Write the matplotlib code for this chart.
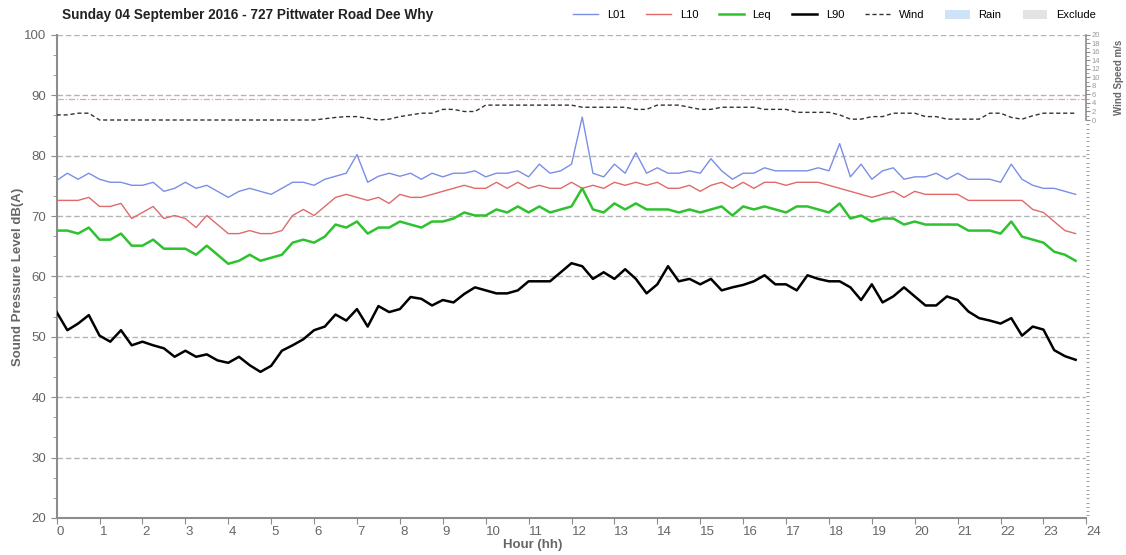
import numpy as np
import matplotlib
matplotlib.use('Agg')
import matplotlib.pyplot as plt
from matplotlib.lines import Line2D
from matplotlib.patches import Patch
from matplotlib.ticker import MultipleLocator

plt.rcParams['font.family'] = ['Liberation Sans', 'DejaVu Sans']

TITLE = 'Sunday 04 September 2016 - 727 Pittwater Road Dee Why'

# 15 minute intervals over the day
hours = np.arange(96) * 0.25

l01 = [75.9, 77.1, 76.1, 77.1, 76.1, 75.6, 75.6, 75.1, 75.1, 75.6,
       74.1, 74.6, 75.6, 74.6, 75.1, 74.1, 73.1, 74.1, 74.6, 74.1,
       73.6, 74.6, 75.6, 75.6, 75.1, 76.1, 76.6, 77.1, 80.2, 75.6,
       76.6, 77.1, 76.6, 77.1, 76.1, 77.1, 76.5, 77.1, 77.1, 77.5,
       76.5, 77.1, 77.1, 77.5, 76.5, 78.6, 77.1, 77.5, 78.6, 86.4,
       77.1, 76.5, 78.6, 77.1, 80.5, 77.1, 78.0, 77.1, 77.1, 77.5,
       77.1, 79.5, 77.5, 76.1, 77.1, 77.1, 78.0, 77.5, 77.5, 77.5,
       77.5, 78.0, 77.5, 82.0, 76.5, 78.6, 76.1, 77.5, 78.0, 76.1,
       76.5, 76.5, 77.1, 76.1, 77.1, 76.1, 76.1, 76.1, 75.6, 78.6,
       76.1, 75.1, 74.6, 74.6, 74.1, 73.6]

l10 = [72.6, 72.6, 72.6, 73.1, 71.6, 71.6, 72.1, 69.6, 70.6, 71.6,
       69.6, 70.1, 69.6, 68.1, 70.1, 68.6, 67.1, 67.1, 67.6, 67.1,
       67.1, 67.6, 70.1, 71.1, 70.1, 71.6, 73.1, 73.6, 73.1, 72.6,
       73.1, 72.1, 73.6, 73.1, 73.1, 73.6, 74.1, 74.6, 75.1, 74.6,
       74.6, 75.6, 74.6, 75.6, 74.6, 75.1, 74.6, 74.6, 75.6, 74.6,
       75.1, 74.6, 75.6, 75.1, 75.6, 75.1, 75.6, 74.6, 74.6, 75.1,
       74.1, 75.1, 75.6, 74.6, 75.6, 74.6, 75.6, 75.6, 75.1, 75.6,
       75.6, 75.6, 75.1, 74.6, 74.1, 73.6, 73.1, 73.6, 74.1, 73.1,
       74.1, 73.6, 73.6, 73.6, 73.6, 72.6, 72.6, 72.6, 72.6, 72.6,
       72.6, 71.1, 70.6, 69.1, 67.6, 67.1]

leq = [67.6, 67.6, 67.1, 68.1, 66.1, 66.1, 67.1, 65.1, 65.1, 66.1,
       64.6, 64.6, 64.6, 63.6, 65.1, 63.6, 62.1, 62.6, 63.6, 62.6,
       63.1, 63.6, 65.6, 66.1, 65.6, 66.6, 68.6, 68.1, 69.1, 67.1,
       68.1, 68.1, 69.1, 68.6, 68.1, 69.1, 69.1, 69.6, 70.6, 70.1,
       70.1, 71.1, 70.6, 71.6, 70.6, 71.6, 70.6, 71.1, 71.6, 74.6,
       71.1, 70.6, 72.1, 71.1, 72.1, 71.1, 71.1, 71.1, 70.6, 71.1,
       70.6, 71.1, 71.6, 70.1, 71.6, 71.1, 71.6, 71.1, 70.6, 71.6,
       71.6, 71.1, 70.6, 72.1, 69.6, 70.1, 69.1, 69.6, 69.6, 68.6,
       69.1, 68.6, 68.6, 68.6, 68.6, 67.6, 67.6, 67.6, 67.1, 69.1,
       66.6, 66.1, 65.6, 64.1, 63.6, 62.6]

l90 = [54.1, 51.1, 52.2, 53.6, 50.2, 49.2, 51.1, 48.6, 49.2, 48.6,
       48.1, 46.7, 47.7, 46.7, 47.1, 46.1, 45.7, 46.7, 45.3, 44.2,
       45.2, 47.7, 48.6, 49.6, 51.1, 51.7, 53.7, 52.7, 54.6, 51.7,
       55.1, 54.1, 54.6, 56.6, 56.3, 55.2, 56.1, 55.7, 57.1, 58.2,
       57.7, 57.2, 57.2, 57.7, 59.2, 59.2, 59.2, 60.7, 62.2, 61.7,
       59.6, 60.7, 59.6, 61.2, 59.6, 57.2, 58.7, 61.7, 59.2, 59.6,
       58.7, 59.6, 57.7, 58.2, 58.6, 59.2, 60.2, 58.7, 58.7, 57.7,
       60.2, 59.6, 59.2, 59.2, 58.2, 56.1, 58.7, 55.7, 56.7, 58.2,
       56.7, 55.2, 55.2, 56.7, 56.1, 54.2, 53.1, 52.7, 52.2, 53.1,
       50.2, 51.7, 51.2, 47.8, 46.8, 46.2]

# wind speed, m/s
wind = [1.2, 1.2, 1.6, 1.6, 0.0, 0.0, 0.0, 0.0, 0.0, 0.0,
        0.0, 0.0, 0.0, 0.0, 0.0, 0.0, 0.0, 0.0, 0.0, 0.0,
        0.0, 0.0, 0.0, 0.0, 0.0, 0.3, 0.6, 0.8, 0.8, 0.4,
        0.0, 0.2, 0.8, 1.2, 1.6, 1.6, 2.5, 2.5, 2.0, 2.0,
        3.5, 3.5, 3.5, 3.5, 3.5, 3.5, 3.5, 3.5, 3.5, 3.0,
        3.0, 3.0, 3.0, 3.0, 2.5, 2.5, 3.5, 3.5, 3.5, 3.0,
        2.5, 2.5, 3.0, 3.0, 3.0, 3.0, 2.5, 2.5, 2.5, 1.8,
        1.8, 1.8, 1.8, 1.2, 0.2, 0.2, 0.8, 0.8, 1.6, 1.6,
        1.6, 0.8, 0.8, 0.2, 0.2, 0.2, 0.2, 1.6, 1.6, 0.6,
        0.2, 1.0, 1.6, 1.6, 1.6, 1.6]

WIND_LIMIT = 5.0

GREY = '#666666'
AXIS = '#8c8c8c'

fig = plt.figure(figsize=(11.26, 5.55), dpi=100)
ax = fig.add_axes([0.0503, 0.0667, 0.9145, 0.8703])

ax.plot(hours, l01, color='#7a8ee6', lw=1.0, zorder=3)
ax.plot(hours, l10, color='#e06a6a', lw=1.0, zorder=3)
ax.plot(hours, leq, color='#2fc22f', lw=1.8, zorder=4)
ax.plot(hours, l90, color='#000000', lw=1.8, zorder=5)

ax.set_xlim(0, 24)
ax.set_ylim(20, 100)
ax.set_xticks(range(0, 25))
ax.set_yticks(range(20, 101, 10))
ax.yaxis.set_minor_locator(MultipleLocator(10 / 3))

for y in range(30, 101, 10):
    ax.axhline(y, color='#b4b4b4', lw=1.0, ls=(0, (4, 2)), zorder=1)

for side in ['top', 'right']:
    ax.spines[side].set_visible(False)
ax.spines['left'].set_color(AXIS)
ax.spines['left'].set_linewidth(1.5)
ax.spines['bottom'].set_color(AXIS)
ax.spines['bottom'].set_linewidth(1.5)

ax.tick_params(axis='both', which='major', colors=AXIS, labelcolor=GREY,
               labelsize=9.5, length=4, direction='out')
ax.tick_params(axis='y', which='minor', colors=AXIS, length=3)
ax.tick_params(axis='x', pad=2)
for lbl in ax.get_xticklabels():
    lbl.set_horizontalalignment('left')

ax.set_xlabel('Hour (hh)', color=GREY, fontsize=9.5, fontweight='bold')
ax.xaxis.set_label_coords(0.462, -0.043)
ax.set_ylabel('Sound Pressure Level dB(A)', color=GREY, fontsize=9.5,
              fontweight='bold')
ax.yaxis.set_label_coords(-0.032, 0.5)

# wind speed on a short secondary scale at the top right
ax2 = ax.twinx()
ax2.set_ylim(-93.6, 20)
ax2.plot(hours, wind, color='#333333', lw=1.0, ls=(0, (3, 2)), zorder=3)
ax2.axhline(WIND_LIMIT, color='#e8a0a0', lw=0.9, ls=(0, (5, 1.5, 1, 1.5)), zorder=2)
for side in ['top', 'left', 'bottom']:
    ax2.spines[side].set_visible(False)
ax2.spines['right'].set_bounds(0, 20)
ax2.spines['right'].set_color(AXIS)
ax2.spines['right'].set_linewidth(1.2)
ax2.set_yticks(range(0, 21, 2))
ax2.yaxis.set_minor_locator(MultipleLocator(1))
ax2.tick_params(axis='y', which='major', colors=AXIS, labelcolor='#999999',
                labelsize=5.5, length=3, pad=1)
ax2.tick_params(axis='y', which='minor', colors=AXIS, length=2)
ax2.set_ylabel('Wind Speed m/s', color=GREY, fontsize=7, fontweight='bold')
ax2.yaxis.set_label_coords(1.027, 0.912)

handles = [
    Line2D([], [], color='#7a8ee6', lw=1.0),
    Line2D([], [], color='#e06a6a', lw=1.0),
    Line2D([], [], color='#2fc22f', lw=1.8),
    Line2D([], [], color='#000000', lw=1.8),
    Line2D([], [], color='#333333', lw=1.0, ls=(0, (3, 2))),
    Patch(facecolor='#cfe2f7', edgecolor='none'),
    Patch(facecolor='#e3e3e3', edgecolor='none'),
]
labels = ['L01', 'L10', 'Leq', 'L90', 'Wind', 'Rain', 'Exclude']
fig.legend(handles, labels, loc='upper right', bbox_to_anchor=(0.982, 1.0),
           ncol=7, frameon=False, fontsize=8, handlelength=2.2,
           handleheight=0.8, columnspacing=1.9, handletextpad=0.8)

fig.text(0.055, 0.973, TITLE, fontsize=9.8, fontweight='bold', color='#222222',
         ha='left', va='center')

fig.savefig('out.png', dpi=100)
